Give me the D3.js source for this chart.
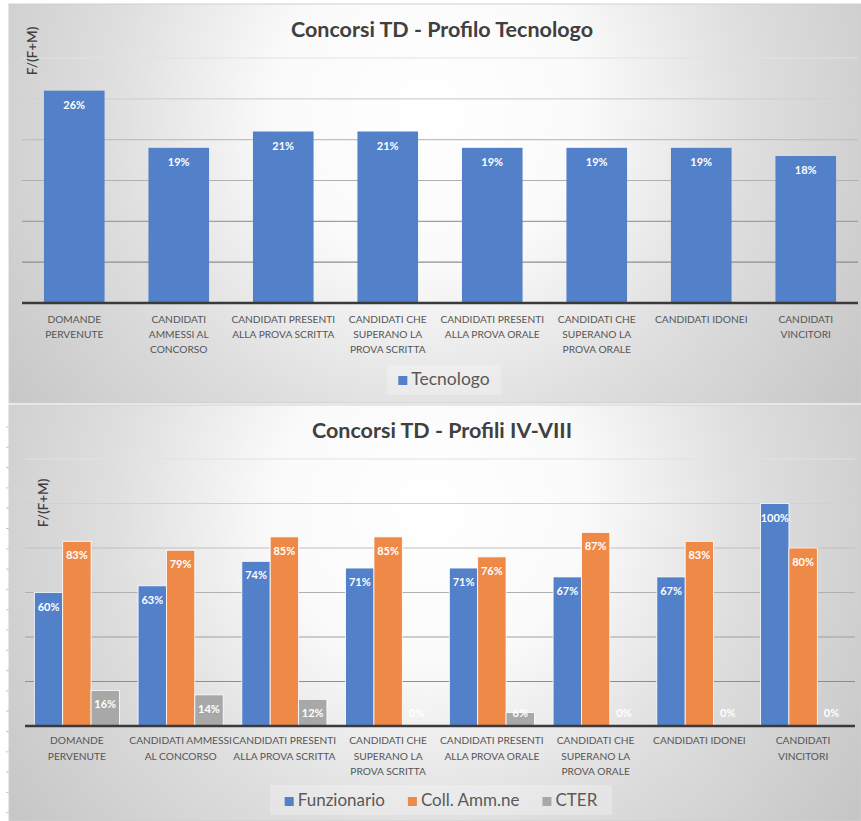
<!DOCTYPE html>
<html>
<head>
<meta charset="utf-8">
<script src="https://cdn.jsdelivr.net/npm/d3@7/dist/d3.min.js"></script>
<style>
  body { margin: 0; background: #fff; }
  text { font-family: Lato, "Open Sans", sans-serif; }
</style>
</head>
<body>
<div id="chart"></div>
<script>
var w = 861;
var h = 821;

// categories (line breaks as in the picture)
var stagesTop = ["DOMANDE\nPERVENUTE", "CANDIDATI\nAMMESSI AL\nCONCORSO", "CANDIDATI PRESENTI\nALLA PROVA SCRITTA",
  "CANDIDATI CHE\nSUPERANO LA\nPROVA SCRITTA", "CANDIDATI PRESENTI\nALLA PROVA ORALE",
  "CANDIDATI CHE\nSUPERANO LA\nPROVA ORALE", "CANDIDATI IDONEI", "CANDIDATI\nVINCITORI"];
var stagesBottom = ["DOMANDE\nPERVENUTE", "CANDIDATI AMMESSI\nAL CONCORSO", "CANDIDATI PRESENTI\nALLA PROVA SCRITTA",
  "CANDIDATI CHE\nSUPERANO LA\nPROVA SCRITTA", "CANDIDATI PRESENTI\nALLA PROVA ORALE",
  "CANDIDATI CHE\nSUPERANO LA\nPROVA ORALE", "CANDIDATI IDONEI", "CANDIDATI\nVINCITORI"];

// F/(F+M) values
var tecnologo   = [0.26, 0.19, 0.21, 0.21, 0.19, 0.19, 0.19, 0.18];
var funzionario = [0.60, 0.63, 0.74, 0.71, 0.71, 0.67, 0.67, 1.00];
var collAmm     = [0.83, 0.79, 0.85, 0.85, 0.76, 0.87, 0.83, 0.80];
var cter        = [0.16, 0.14, 0.12, 0.00, 0.06, 0.00, 0.00, 0.00];

var ticksTop = [0, 0.05, 0.10, 0.15, 0.20, 0.25, 0.30];
var ticksBottom = [0, 0.2, 0.4, 0.6, 0.8, 1.0, 1.2];

var blue = "#5280c9", orange = "#ee8948", grey = "#a8a8a8";
var pct = d3.format(".0%");

var svg = d3.select("#chart").append("svg")
            .attr("width", w)
            .attr("height", h);

var defs = svg.append("defs");
function bgGradient(id, cx, cy, r) {
  var g = defs.append("radialGradient")
              .attr("id", id)
              .attr("gradientUnits", "userSpaceOnUse")
              .attr("cx", cx).attr("cy", cy).attr("r", r);
  g.append("stop").attr("offset", "0").attr("stop-color", "#ffffff");
  g.append("stop").attr("offset", "0.3").attr("stop-color", "#fafafa");
  g.append("stop").attr("offset", "0.62").attr("stop-color", "#dedede");
  g.append("stop").attr("offset", "1").attr("stop-color", "#c6c6c6");
}
bgGradient("bgTop", 430, 110, 520);
bgGradient("bgBottom", 430, 510, 520);

// little marks on the left edge, from the spreadsheet behind the chart
svg.selectAll("line.edge")
   .data(d3.range(427, h, 20.3))
   .enter().append("line")
   .attr("x1", 6).attr("x2", 10)
   .attr("y1", function(d) { return d; }).attr("y2", function(d) { return d; })
   .attr("stroke", "#c8c8c8").attr("stroke-width", 1);

var charts = [
  { top: 4, bottom: 403, bg: "url(#bgTop)", title: "Concorsi TD - Profilo Tecnologo", titleY: 37,
    axisLabelX: 37, axisLabelY: 51, xRange: [22, 858], yRange: [303, 58], ticks: ticksTop,
    stages: stagesTop, labelY: 323, lineH: 15,
    series: [{ name: "Tecnologo", values: tecnologo, color: blue }],
    inner: 0.42, legendBox: [387, 365, 114, 30], legendY: 385, legendSize: 17.5, legendCx: 444 },
  { top: 405, bottom: 821, bg: "url(#bgBottom)", title: "Concorsi TD - Profili IV-VIII", titleY: 438,
    axisLabelX: 48, axisLabelY: 503, xRange: [25, 855], yRange: [726, 459], ticks: ticksBottom,
    stages: stagesBottom, labelY: 744, lineH: 15.5,
    series: [{ name: "Funzionario", values: funzionario, color: blue },
             { name: "Coll. Amm.ne", values: collAmm, color: orange },
             { name: "CTER", values: cter, color: grey }],
    inner: 0.18, legendBox: [270, 785, 342, 30], legendY: 806, legendSize: 17, legendCx: 441 }
];

charts.forEach(function(c) { drawChart(c); });

function drawChart(c) {
  var g = svg.append("g");

  g.append("rect")
   .attr("x", 9).attr("y", c.top)
   .attr("width", w - 9).attr("height", c.bottom - c.top)
   .attr("fill", c.bg)
   .attr("stroke", "#cfcfcf").attr("stroke-width", 1);

  var y = d3.scaleLinear()
            .domain([0, c.ticks[c.ticks.length - 1]])
            .range(c.yRange);
  var x0 = d3.scaleBand()
             .domain(d3.range(c.stages.length))
             .range(c.xRange)
             .paddingInner(c.inner)
             .paddingOuter(c.inner / 2);
  var x1 = d3.scaleBand()
             .domain(c.series.map(function(s) { return s.name; }))
             .range([0, x0.bandwidth()]);

  // gridlines: darker towards the base line
  var gridColor = d3.interpolateRgb("#8e8e8e", "#e2e2e2");
  g.selectAll("line.grid")
   .data(c.ticks.slice(1))
   .enter().append("line")
   .attr("x1", c.xRange[0]).attr("x2", c.xRange[1])
   .attr("y1", function(d) { return y(d); })
   .attr("y2", function(d) { return y(d); })
   .attr("stroke", function(d, i) { return gridColor(i / (c.ticks.length - 2)); })
   .attr("stroke-width", 1.2);

  c.series.forEach(function(s) {
    var sg = g.append("g");
    sg.selectAll("rect")
      .data(s.values)
      .enter().append("rect")
      .attr("x", function(d, i) { return x0(i) + x1(s.name); })
      .attr("y", function(d) { return y(d); })
      .attr("width", x1.bandwidth())
      .attr("height", function(d) { return y(0) - y(d); })
      .attr("fill", s.color)
      .attr("stroke", c.series.length > 1 ? "#ffffff" : "none")
      .attr("stroke-width", 0.8);

    sg.selectAll("text")
      .data(s.values)
      .enter().append("text")
      .attr("x", function(d, i) { return x0(i) + x1(s.name) + x1.bandwidth() / 2; })
      .attr("y", function(d) { return Math.min(y(d) + 14, y(0) - 13) + 4; })
      .attr("text-anchor", "middle")
      .attr("font-size", 11)
      .attr("font-weight", "bold")
      .attr("fill", "#ffffff")
      .text(function(d) { return pct(d); });
  });

  // base line
  g.append("line")
   .attr("x1", c.xRange[0]).attr("x2", c.xRange[1])
   .attr("y1", y(0)).attr("y2", y(0))
   .attr("stroke", "#3a3a3a").attr("stroke-width", 2.5);

  // category labels
  g.selectAll("text.cat")
   .data(c.stages)
   .enter().append("text")
   .attr("class", "cat")
   .attr("text-anchor", "middle")
   .attr("font-size", 10.2)
   .attr("fill", "#555555")
   .each(function(d, i) {
     var t = d3.select(this);
     d.split("\n").forEach(function(line, k) {
       t.append("tspan")
        .attr("x", x0(i) + x0.bandwidth() / 2)
        .attr("y", c.labelY + k * c.lineH)
        .text(line);
     });
   });

  // title and axis label
  g.append("text")
   .attr("x", 442).attr("y", c.titleY)
   .attr("text-anchor", "middle")
   .attr("font-size", 21.5)
   .attr("font-weight", "bold")
   .attr("fill", "#404040")
   .text(c.title);

  g.append("text")
   .attr("transform", "translate(" + c.axisLabelX + "," + c.axisLabelY + ") rotate(-90)")
   .attr("text-anchor", "middle")
   .attr("font-size", 13.5)
   .attr("font-weight", 600)
   .attr("fill", "#404040")
   .text("F/(F+M)");

  // legend
  var b = c.legendBox;
  g.append("rect")
   .attr("x", b[0]).attr("y", b[1]).attr("width", b[2]).attr("height", b[3])
   .attr("fill", "#ffffff").attr("opacity", 0.25);

  var lg = g.append("g");
  var pos = 0;
  c.series.forEach(function(s) {
    var item = lg.append("g").attr("transform", "translate(" + pos + ",0)");
    item.append("rect")
        .attr("x", 0).attr("y", c.legendY - 9)
        .attr("width", 9).attr("height", 9)
        .attr("fill", s.color);
    var t = item.append("text")
        .attr("x", 13).attr("y", c.legendY)
        .attr("font-size", c.legendSize)
        .attr("fill", "#595959")
        .text(s.name);
    pos += 13 + t.node().getComputedTextLength() + 23;
  });
  var lw = pos - 23;
  lg.attr("transform", "translate(" + (c.legendCx - lw / 2) + ",0)");
}
</script>
</body>
</html>
